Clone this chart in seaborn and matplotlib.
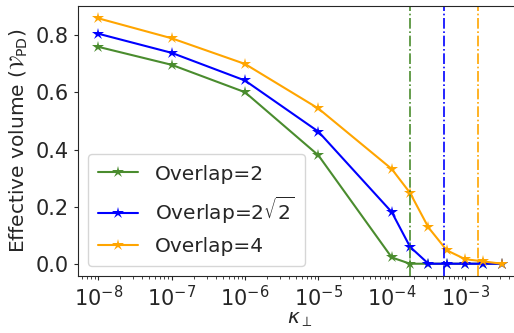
import numpy as np
import pandas as pd
import seaborn as sns
import matplotlib.pyplot as plt

# kappa_perp values (quarter decades after 1e-4)
kappa = [1e-8, 1e-7, 1e-6, 1e-5, 1e-4, 10**-3.75, 10**-3.5, 10**-3.25, 1e-3, 10**-2.75, 10**-2.5]

vol_2 = [0.760, 0.697, 0.601, 0.380, 0.022, 0.0, 0.0, 0.0, 0.0, 0.0, 0.0]
vol_2sqrt2 = [0.806, 0.739, 0.642, 0.463, 0.181, 0.059, 0.0, 0.0, 0.0, 0.0, 0.0]
vol_4 = [0.860, 0.790, 0.700, 0.544, 0.332, 0.248, 0.127, 0.047, 0.016, 0.008, 0.0]

labels = ["Overlap=2", r"Overlap=$2\sqrt{2}$", "Overlap=4"]
colors = ["#4a8c2e", "blue", "orange"]
# threshold kappa for each overlap (dash-dot lines)
thresholds = [1.8e-4, 5.2e-4, 1.5e-3]

df = pd.DataFrame({"kappa": kappa * 3,
                   "vol": vol_2 + vol_2sqrt2 + vol_4,
                   "overlap": [labels[0]] * len(kappa) + [labels[1]] * len(kappa) + [labels[2]] * len(kappa)})

sns.set_style("ticks")
plt.rcParams['font.family'] = ['DejaVu Sans']

fig = plt.figure(figsize=(5.14, 3.33), dpi=100)
ax = fig.add_axes([78 / 514, 57 / 333, 444 / 514, 270 / 333])

sns.lineplot(data=df, x="kappa", y="vol", hue="overlap", palette=colors,
             marker="*", markersize=9, markeredgewidth=0, linewidth=1.5, ax=ax)

for t, c in zip(thresholds, colors):
    ax.axvline(t, color=c, linestyle="-.", linewidth=1.2)

ax.set_xscale("log")
ax.set_xticks([1e-8, 1e-7, 1e-6, 1e-5, 1e-4, 1e-3])
ax.set_xlabel(r"$\kappa_\perp$", fontsize=14.5, labelpad=0)
ax.set_ylabel(r"Effective volume ($\mathcal{V}_{\rm PD}$)", fontsize=14.5)
ax.set_yticks([0.0, 0.2, 0.4, 0.6, 0.8])
ax.tick_params(axis="both", labelsize=15, length=3)
ax.tick_params(axis="x", which="minor", length=2)
ax.legend(loc="lower left", fontsize=14.5, title=None, labelspacing=0.55,
          borderpad=0.5, handlelength=2.0, borderaxespad=0.5)

fig.savefig("out.png", dpi=100)
